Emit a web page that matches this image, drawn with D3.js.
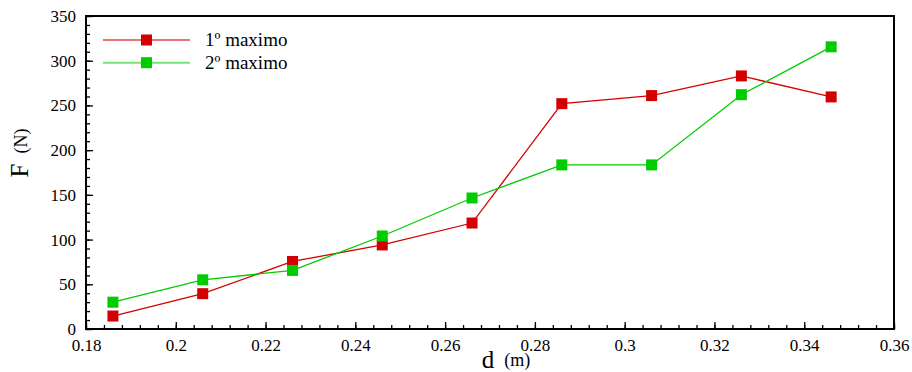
<!DOCTYPE html>
<html>
<head>
<meta charset="utf-8">
<script src="https://cdn.jsdelivr.net/npm/d3@7"></script>
<style>
  body { margin: 0; background: #fff; }
  svg text { font-family: "Liberation Serif", "Times New Roman", serif !important; fill: #000; }
</style>
</head>
<body>
<div id="chart"></div>
<script>
// Data //
const distances = [0.186, 0.206, 0.226, 0.246, 0.266, 0.286, 0.306, 0.326, 0.346];
const max1 = [14.5, 39.5, 75.5, 94, 118.5, 252, 261, 283, 259.5];
const max2 = [30, 55, 65.5, 104, 146.5, 183.5, 183.5, 262, 315.5];
const seriesNames = ["1º maximo", "2º maximo"];
const xTicks = [0.18, 0.2, 0.22, 0.24, 0.26, 0.28, 0.3, 0.32, 0.34, 0.36];
const yTicks = [0, 50, 100, 150, 200, 250, 300, 350];

/* Canvas */
const margin = { top: 16, right: 18, bottom: 43, left: 86 };
const width = 912 - margin.left - margin.right;
const height = 372 - margin.top - margin.bottom;

const svg = d3.select("#chart")
    .append("svg")
    .attr("width", 912)
    .attr("height", 372)
    .style("font-family", "'Liberation Serif', serif")
    .append("g")
    .attr("transform", `translate(${margin.left},${margin.top})`);

const xScale = d3.scaleLinear().domain([0.18, 0.36]).range([0, width]);
const yScale = d3.scaleLinear().domain([0, 350]).range([height, 0]);

// minor ticks
const xMinor = d3.range(0, 46).map(i => 0.18 + i * 0.004);
const yMinor = d3.range(0, 36).map(i => i * 10);

svg.append("g")
    .attr("transform", `translate(0,${height})`)
    .call(d3.axisBottom(xScale).tickValues(xMinor).tickSize(-4).tickFormat(""))
    .call(g => g.select(".domain").remove());

svg.append("g")
    .call(d3.axisLeft(yScale).tickValues(yMinor).tickSize(-4).tickFormat(""))
    .call(g => g.select(".domain").remove());

/* Horizontal axis */
svg.append("g")
    .attr("transform", `translate(0,${height})`)
    .call(d3.axisBottom(xScale).tickValues(xTicks).tickSize(-7).tickPadding(10).tickFormat(d => String(+d.toFixed(2))))
    .call(g => g.select(".domain").remove())
    .call(g => g.attr("font-family", "Liberation Serif").attr("font-size", 17));

/* Vertical axis */
svg.append("g")
    .call(d3.axisLeft(yScale).tickValues(yTicks).tickSize(-7).tickPadding(10))
    .call(g => g.select(".domain").remove())
    .call(g => g.attr("font-family", "Liberation Serif").attr("font-size", 17));

svg.selectAll(".tick line").attr("stroke", "#000").attr("stroke-width", 1.3);

// frame
svg.append("rect")
    .attr("width", width)
    .attr("height", height)
    .attr("fill", "none")
    .attr("stroke", "#000")
    .attr("stroke-width", 2);

/* Series */
const colors = ["#d40000", "#00cc00"];
const series = [max1, max2];

const line = d3.line()
    .x((d, i) => xScale(distances[i]))
    .y(d => yScale(d));

series.forEach((values, s) => {
    svg.append("path")
        .datum(values)
        .attr("fill", "none")
        .attr("stroke", colors[s])
        .attr("stroke-width", 1.3)
        .attr("d", line);

    svg.selectAll(`.mark-${s}`)
        .data(values)
        .enter()
        .append("rect")
        .attr("class", `mark-${s}`)
        .attr("x", (d, i) => xScale(distances[i]) - 5.5)
        .attr("y", d => yScale(d) - 5.5)
        .attr("width", 11)
        .attr("height", 11)
        .attr("fill", colors[s]);
});

/* Legend */
const legend = svg.append("g")
    .attr("transform", "translate(17, 24)");

seriesNames.forEach((name, s) => {
    const row = legend.append("g").attr("transform", `translate(0, ${s * 22.7})`);
    row.append("line")
        .attr("x1", 0).attr("x2", 87)
        .attr("stroke", colors[s])
        .attr("stroke-opacity", 0.55)
        .attr("stroke-width", 2);
    row.append("rect")
        .attr("x", 38).attr("y", -5.5)
        .attr("width", 11).attr("height", 11)
        .attr("fill", colors[s]);
    row.append("text")
        .attr("x", 102)
        .attr("y", 6)
        .attr("font-size", "19px")
        .text(name);
});

/* Axis titles */
const yTitle = svg.append("text")
    .attr("transform", `translate(${-58},${137}) rotate(-90)`)
    .attr("text-anchor", "middle");
yTitle.append("tspan").attr("font-size", "25px").text("F");
yTitle.append("tspan").attr("font-size", "18px").attr("dx", 10).attr("dy", -1).text("(N)");

const xTitle = svg.append("text")
    .attr("x", width / 2 + 16)
    .attr("y", height + 39)
    .attr("text-anchor", "middle");
xTitle.append("tspan").attr("font-size", "25px").text("d");
xTitle.append("tspan").attr("font-size", "18px").attr("dx", 10).attr("dy", -2).text("(m)");
</script>
</body>
</html>
